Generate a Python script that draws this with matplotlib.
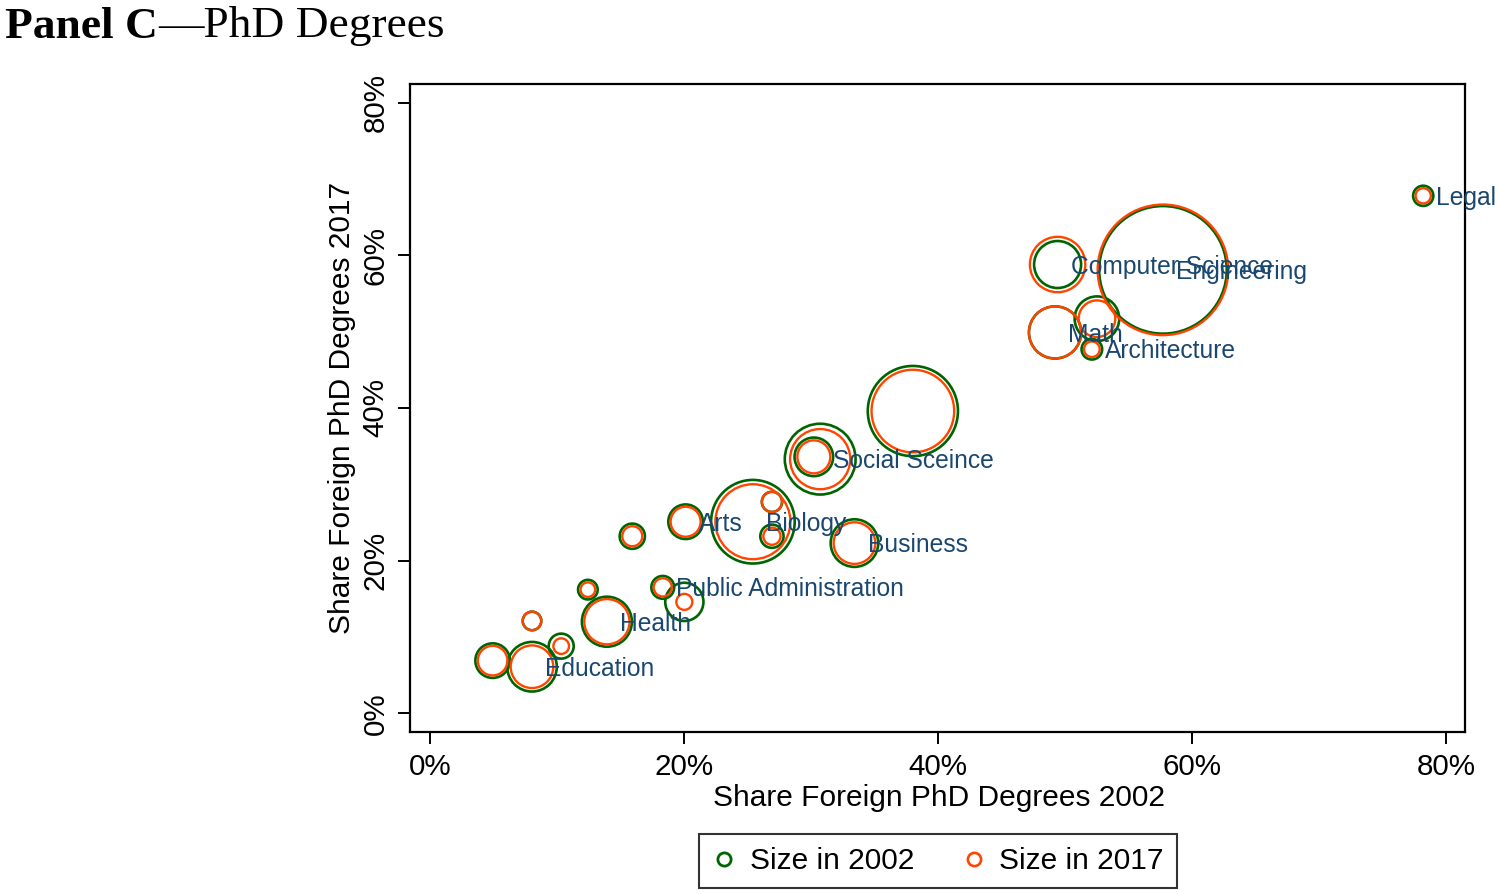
import numpy as np
import matplotlib
matplotlib.use("Agg")
import matplotlib.pyplot as plt
from matplotlib.lines import Line2D

# fields, share foreign in 2002 (x) and 2017 (y), relative field sizes
fields = [
    "Education", "", "", "", "Health", "", "Public Administration", "",
    "", "Arts", "Biology", "", "", "Business", "Social Sceince", "",
    "", "Computer Science", "Engineering", "Math", "", "Architecture", "Legal",
]
share_2002 = [8.0, 4.9, 10.3, 8.0, 13.9, 12.4, 18.3, 20.0,
              15.9, 20.1, 25.4, 26.9, 26.9, 33.4, 30.7, 30.2,
              38.0, 49.4, 57.7, 49.2, 52.5, 52.1, 78.2]
share_2017 = [6.1, 6.9, 8.8, 12.1, 12.0, 16.2, 16.5, 14.6,
              23.2, 25.1, 25.1, 27.7, 23.2, 22.3, 33.3, 33.6,
              39.6, 58.8, 58.1, 49.9, 51.7, 47.7, 67.8]
size_2002 = [6.15, 2.99, 1.56, 0.86, 6.25, 0.96, 1.30, 3.65,
             1.59, 2.99, 17.47, 1.02, 1.35, 5.66, 12.53, 3.72,
             20.34, 5.52, 40.70, 6.81, 4.97, 1.06, 1.02]
size_2017 = [4.54, 2.19, 0.61, 0.86, 5.11, 0.53, 0.83, 0.64,
             1.00, 2.25, 14.06, 1.02, 0.74, 4.33, 9.06, 2.72,
             17.06, 7.67, 42.64, 6.81, 3.35, 0.61, 0.58]

green = "#006400"
orange = "#ff4500"
navy = "#1a476f"
scale = 207.36  # marker area per size unit

plt.rcParams["font.family"] = ["Liberation Sans", "DejaVu Sans"]

fig = plt.figure(figsize=(15, 8.94), dpi=100)
ax = fig.add_axes([0.27333, 0.18087, 0.70333, 0.72517])

x = np.array(share_2002)
y = np.array(share_2017)

ax.scatter(x, y, s=np.array(size_2002) * scale, facecolors="none",
           edgecolors=green, linewidths=1.9, zorder=2)
ax.scatter(x, y, s=np.array(size_2017) * scale, facecolors="none",
           edgecolors=orange, linewidths=1.7, zorder=3)

for i, name in enumerate(fields):
    if name:
        ax.annotate(name, (x[i], y[i]), xytext=(9.5, -1.5),
                    textcoords="offset points", ha="left", va="center",
                    color=navy, fontsize=17.7, zorder=4)

ax.set_xlim(-1.61, 81.49)
ax.set_ylim(-2.49, 82.45)
ticks = [0, 20, 40, 60, 80]
tick_labels = ["0%", "20%", "40%", "60%", "80%"]
ax.set_xticks(ticks)
ax.set_xticklabels(tick_labels)
ax.set_yticks(ticks)
ax.set_yticklabels(tick_labels, rotation=90, va="center")
ax.tick_params(axis="both", direction="out", length=8.6, width=1.4,
               labelsize=21.3, pad=6)
for sp in ax.spines.values():
    sp.set_linewidth(1.6)
    sp.set_color("black")

fig.text(939 / 1500, 1 - 798 / 894, "Share Foreign PhD Degrees 2002",
         ha="center", va="center", fontsize=21.5)
fig.text(342 / 1500, 1 - 408 / 894, "Share Foreign PhD Degrees 2017",
         ha="center", va="center", rotation=90, fontsize=21.5)

# title: bold part then regular part
t1 = fig.text(5 / 1500, 1 - 37.5 / 894, "Panel C", ha="left", va="baseline",
              fontsize=32.7, fontweight="bold", family="Liberation Serif")
fig.canvas.draw()
bb = t1.get_window_extent(renderer=fig.canvas.get_renderer())
fig.text(bb.x1 / fig.bbox.width, 1 - 37.5 / 894, "\u2014PhD Degrees",
         ha="left", va="baseline", fontsize=32.7, family="Liberation Serif")

handles = [
    Line2D([], [], linestyle="none", marker="o", markersize=9.5,
           markerfacecolor="none", markeredgecolor=green, markeredgewidth=2.0),
    Line2D([], [], linestyle="none", marker="o", markersize=9.5,
           markerfacecolor="none", markeredgecolor=orange, markeredgewidth=1.9),
]
leg = fig.legend(handles, ["Size in 2002", "Size in 2017"], ncol=2,
                 loc="center", bbox_to_anchor=(938 / 1500, 1 - 861 / 894),
                 fontsize=21.5, frameon=True, fancybox=False, shadow=False,
                 handlelength=0.8, handletextpad=0.45, columnspacing=1.6,
                 borderpad=0.45, borderaxespad=0)
leg.get_frame().set_edgecolor("black")
leg.get_frame().set_linewidth(1.5)

fig.savefig("out.png", dpi=100, facecolor="white")
